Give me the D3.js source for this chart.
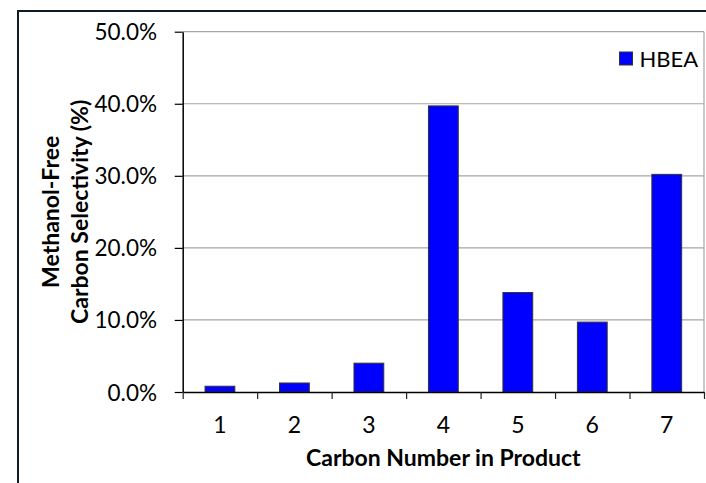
<!DOCTYPE html>
<html>
<head>
<meta charset="utf-8">
<script src="https://cdn.jsdelivr.net/npm/d3@7"></script>
<style>
  html, body { margin: 0; padding: 0; background: #fff; }
  svg { display: block; font-family: Lato, "Open Sans", sans-serif; }
</style>
</head>
<body>
<svg id="chart" width="706" height="483"></svg>
<script>
const categories = ["1", "2", "3", "4", "5", "6", "7"];
const seriesName = "HBEA";
const values = [0.8, 1.25, 4.0, 39.7, 13.8, 9.7, 30.2];
const yTicks = [0, 10, 20, 30, 40, 50];
const xTitle = "Carbon Number in Product";
const yTitleLines = ["Methanol-Free", "Carbon Selectivity (%)"];

const svg = d3.select("#chart");
const pL = 182.7, pR = 704, pT = 31.7, pB = 392;

// outer frame
svg.append("rect")
  .attr("x", 18).attr("y", 11).attr("width", 700).attr("height", 490)
  .attr("fill", "#fff").attr("stroke", "#101c26").attr("stroke-width", 2);

const x = d3.scaleBand().domain(categories).range([pL, pR])
  .paddingInner(0.6).paddingOuter(0.3);
const xEdge = d3.scaleLinear().domain([0, categories.length]).range([pL, pR]);
const y = d3.scaleLinear().domain([0, 50]).range([pB, pT]);

// gridlines
svg.append("g").selectAll("line").data(yTicks.filter(d => d > 0)).join("line")
  .attr("x1", pL).attr("x2", pR)
  .attr("y1", d => y(d)).attr("y2", d => y(d))
  .attr("stroke", "#a6a6a6").attr("stroke-width", 1.2);
// right border of plot area
svg.append("line")
  .attr("x1", pR).attr("x2", pR).attr("y1", pT).attr("y2", pB)
  .attr("stroke", "#a6a6a6").attr("stroke-width", 1.2);

// bars
svg.append("g").selectAll("rect").data(values).join("rect")
  .attr("x", (d, i) => x(categories[i]))
  .attr("width", x.bandwidth())
  .attr("y", d => y(d))
  .attr("height", d => y(0) - y(d))
  .attr("fill", "#0000ff")
  .attr("stroke", "#333").attr("stroke-width", 1);

// y axis
const yAxis = svg.append("g").attr("transform", `translate(${pL},0)`)
  .call(d3.axisLeft(y).tickValues(yTicks).tickFormat(d => d.toFixed(1) + "%")
    .tickSize(8).tickSizeOuter(0).tickPadding(17.7));
yAxis.select(".domain").attr("stroke", "#000").attr("stroke-width", 1.5);
yAxis.selectAll(".tick line").attr("stroke", "#000").attr("stroke-width", 1.2);
yAxis.selectAll(".tick text").attr("font-size", 22.5).attr("fill", "#000")
  .attr("dy", null).attr("y", 8).attr("font-family", "Lato, sans-serif");

// x axis edges (ticks at category boundaries)
const xTickAxis = svg.append("g").attr("transform", `translate(0,${pB})`)
  .call(d3.axisBottom(xEdge).tickValues(d3.range(categories.length + 1))
    .tickFormat("").tickSize(7).tickSizeOuter(0));
xTickAxis.select(".domain").attr("stroke", "#000").attr("stroke-width", 1.5);
xTickAxis.selectAll(".tick line").attr("stroke", "#222").attr("stroke-width", 1.2);

// x labels
const xAxis = svg.append("g").attr("transform", `translate(0,${pB})`)
  .call(d3.axisBottom(x).tickSize(0).tickPadding(0));
xAxis.select(".domain").remove();
xAxis.selectAll(".tick text").attr("font-size", 23).attr("fill", "#000")
  .attr("dy", null).attr("y", 41).attr("font-family", "Lato, sans-serif");

// x title
svg.append("text")
  .attr("x", (pL + pR) / 2).attr("y", 466)
  .attr("text-anchor", "middle").attr("font-weight", "bold").attr("font-size", 23)
  .text(xTitle);

// y title
const yt = svg.append("g").attr("transform", `translate(59,${(pT + pB) / 2}) rotate(-90)`);
yt.selectAll("text").data(yTitleLines).join("text")
  .attr("x", 0).attr("y", (d, i) => i * 28.5)
  .attr("text-anchor", "middle").attr("font-weight", "bold").attr("font-size", 23)
  .text(d => d);

// legend
const lg = svg.append("g").attr("transform", "translate(619.5,52)");
lg.append("rect").attr("width", 13).attr("height", 13)
  .attr("fill", "#0000ff").attr("stroke", "#333").attr("stroke-width", 1);
lg.append("text").attr("x", 20).attr("y", 14.5).attr("font-size", 22).text(seriesName);
</script>
</body>
</html>
